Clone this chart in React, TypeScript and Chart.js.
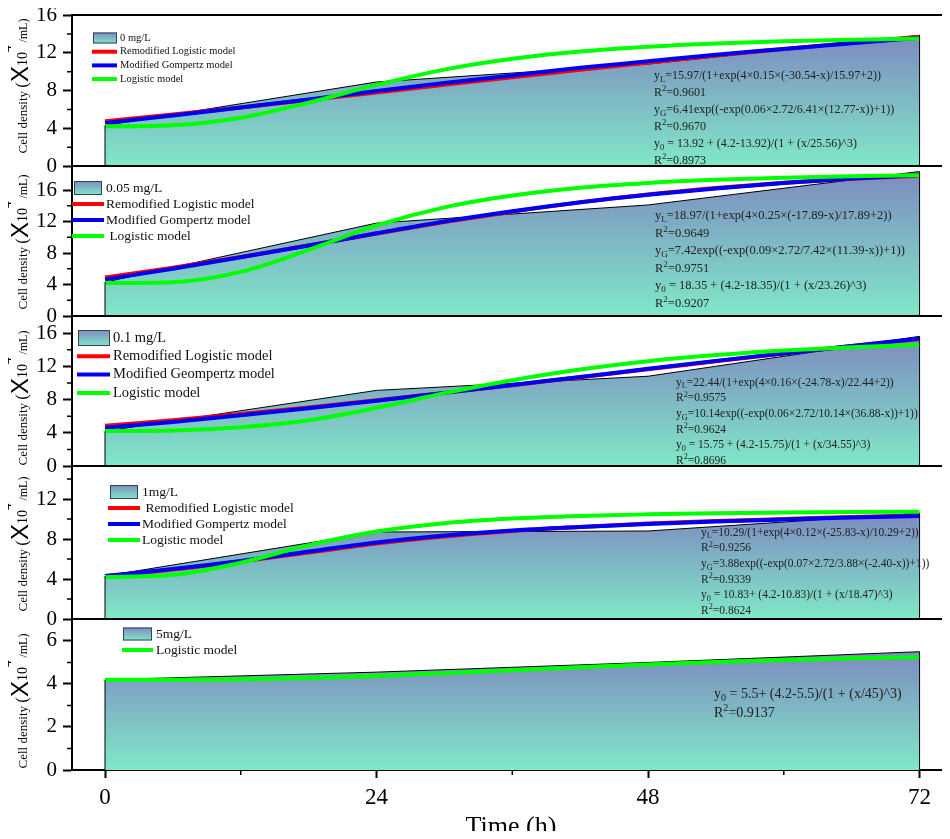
import React, { useEffect, useRef } from 'react';
import { Chart, registerables } from 'chart.js';
Chart.register(...registerables);

// ---------------- data ----------------
const hours = [0, 24, 48, 72];
const fitHours = [0, 6, 12, 18, 24, 30, 36, 42, 48, 54, 60, 66, 72];
const xTicks = [0, 24, 48, 72];
const xMinorTicks = [12, 36, 60];

const dens0 = [4.3, 8.9, 10.8, 13.85];
const dens005 = [4.3, 11.8, 14.1, 18.35];
const dens01 = [4.2, 9.1, 10.8, 15.6];
const dens1 = [4.3, 8.7, 8.8, 10.6];
const dens5 = [4.2, 4.55, 5.0, 5.5];

const red0 = [4.75, 5.45, 6.2, 7.0, 7.8, 8.6, 9.4, 10.2, 10.95, 11.7, 12.4, 13.05, 13.7];
const blue0 = [4.55, 5.35, 6.2, 7.05, 7.95, 8.8, 9.6, 10.4, 11.1, 11.8, 12.4, 13.0, 13.6];
const green0 = [4.2, 4.32, 5.11, 6.72, 8.6, 10.21, 11.36, 12.13, 12.64, 12.99, 13.22, 13.39, 13.5];

const red005 = [4.89, 6.12, 7.5, 8.97, 10.47, 11.92, 13.25, 14.43, 15.43, 16.25, 16.91, 17.42, 17.82];
const blue005 = [4.65, 6.0, 7.45, 8.95, 10.5, 12.0, 13.3, 14.45, 15.4, 16.2, 16.9, 17.45, 17.9];
const green005 = [4.2, 4.3, 5.6, 8.4, 11.5, 13.8, 15.3, 16.3, 16.9, 17.3, 17.57, 17.76, 17.89];

const red01 = [4.83, 5.51, 6.25, 7.05, 7.91, 8.8, 9.73, 10.69, 11.64, 12.6, 13.53, 14.43, 15.29];
const blue01 = [4.6, 5.3, 6.1, 6.95, 7.85, 8.8, 9.75, 10.7, 11.7, 12.65, 13.55, 14.45, 15.35];
const green01 = [4.2, 4.26, 4.66, 5.5, 7.0, 8.77, 10.33, 11.62, 12.61, 13.35, 13.9, 14.3, 14.6];

const red1 = [4.3, 4.95, 5.75, 6.65, 7.55, 8.25, 8.8, 9.2, 9.55, 9.8, 10.0, 10.2, 10.35];
const blue1 = [4.3, 5.0, 5.8, 6.75, 7.65, 8.35, 8.85, 9.2, 9.5, 9.75, 9.95, 10.15, 10.3];
const green1 = [4.2, 4.42, 5.63, 7.39, 8.75, 9.58, 10.04, 10.31, 10.47, 10.58, 10.64, 10.69, 10.72];

const green5 = [4.2, 4.2, 4.22, 4.28, 4.37, 4.5, 4.64, 4.78, 4.91, 5.02, 5.11, 5.19, 5.24];

const yTicks16 = [0, 4, 8, 12, 16];
const yTicks12 = [0, 4, 8, 12];
const yTicks6 = [0, 2, 4, 6];
const yMinor16 = [2, 6, 10, 14];
const yMinor12 = [2, 6, 10, 14];
const yMinor6 = [1, 3, 5];

const legendText0 = ['0 mg/L', 'Remodified Logistic model', 'Modified Gompertz model', 'Logistic model'];
const legendText005 = ['0.05 mg/L', 'Remodified Logistic model', 'Modified Gompertz model', ' Logistic model'];
const legendText01 = ['0.1 mg/L', 'Remodified Logistic model', 'Modified Geompertz model', 'Logistic model'];
const legendText1 = ['1mg/L', ' Remodified Logistic model', 'Modified Gompertz model', 'Logistic model'];
const legendText5 = ['5mg/L', 'Logistic model'];

const ann0 = [
  'y_{L}=15.97/(1+exp(4×0.15×(-30.54-x)/15.97+2))',
  'R^{2}=0.9601',
  'y_{G}=6.41exp((-exp(0.06×2.72/6.41×(12.77-x))+1))',
  'R^{2}=0.9670',
  'y_{0} = 13.92 + (4.2-13.92)/(1 + (x/25.56)^3)',
  'R^{2}=0.8973',
];
const ann005 = [
  'y_{L}=18.97/(1+exp(4×0.25×(-17.89-x)/17.89+2))',
  'R^{2}=0.9649',
  'y_{G}=7.42exp((-exp(0.09×2.72/7.42×(11.39-x))+1))',
  'R^{2}=0.9751',
  'y_{0} = 18.35 + (4.2-18.35)/(1 + (x/23.26)^3)',
  'R^{2}=0.9207',
];
const ann01 = [
  'y_{L}=22.44/(1+exp(4×0.16×(-24.78-x)/22.44+2))',
  'R^{2}=0.9575',
  'y_{G}=10.14exp((-exp(0.06×2.72/10.14×(36.88-x))+1))',
  'R^{2}=0.9624',
  'y_{0} = 15.75 + (4.2-15.75)/(1 + (x/34.55)^3)',
  'R^{2}=0.8696',
];
const ann1 = [
  'y_{L}=10.29/(1+exp(4×0.12×(-25.83-x)/10.29+2))',
  'R^{2}=0.9256',
  'y_{G}=3.88exp((-exp(0.07×2.72/3.88×(-2.40-x))+1))',
  'R^{2}=0.9339',
  'y_{0} = 10.83+ (4.2-10.83)/(1 + (x/18.47)^3)',
  'R^{2}=0.8624',
];
const ann5 = ['y_{0} = 5.5+ (4.2-5.5)/(1 + (x/45)^3)', 'R^{2}=0.9137'];

const xTitle = 'Time (h)';

// ---------------- styles / layout ----------------
const SERIF = '"Liberation Serif", "Times New Roman", Times, serif';
const SANS = '"Liberation Sans", Arial, sans-serif';
const RED = '#ff0000';
const BLUE = '#0000f5';
const GREEN = '#00ff00';
const GRAD_TOP = '#7d8bc0';
const GRAD_BOT = '#80e8c8';
const X_MIN = -2.917;
const X_MAX = 74.69;
const TOP_PAD = 15;

const panels = [
  {
    plotTop: 15, plotBottom: 166, ymax: 16, yTicks: yTicks16, yMinor: yMinor16,
    dens: dens0, red: red0, blue: blue0, green: green0,
    legendText: legendText0, legendColors: [null, RED, BLUE, GREEN],
    lg: { sx0: 92, sx1: 117, px0: 93, px1: 117, tx: 120, y0: 38, dy: 13.7, fs: 10.5, ph: 11 },
    ann: ann0, al: { x: 654, y0: 75, dy: 17, fs: 12 }, titleCy: 86,
  },
  {
    plotTop: 166, plotBottom: 316, ymax: 19.05, yTicks: yTicks16, yMinor: yMinor16,
    dens: dens005, red: red005, blue: blue005, green: green005,
    legendText: legendText005, legendColors: [null, RED, BLUE, GREEN],
    lg: { sx0: 72, sx1: 104, px0: 74, px1: 102, tx: 106, y0: 188, dy: 16, fs: 13.5, ph: 14 },
    ann: ann005, al: { x: 655, y0: 215, dy: 17.5, fs: 12.5 }, titleCy: 242,
  },
  {
    plotTop: 316, plotBottom: 466, ymax: 18.05, yTicks: yTicks16, yMinor: yMinor16,
    dens: dens01, red: red01, blue: blue01, green: green01,
    legendText: legendText01, legendColors: [null, RED, BLUE, GREEN],
    lg: { sx0: 77, sx1: 110, px0: 78, px1: 110, tx: 113, y0: 338, dy: 18.3, fs: 14.5, ph: 16 },
    ann: ann01, al: { x: 676, y0: 382, dy: 15.6, fs: 11.5 }, titleCy: 398,
  },
  {
    plotTop: 466, plotBottom: 619, ymax: 15.3, yTicks: yTicks12, yMinor: yMinor12,
    dens: dens1, red: red1, blue: blue1, green: green1,
    legendText: legendText1, legendColors: [null, RED, BLUE, GREEN],
    lg: { sx0: 108, sx1: 140, px0: 110, px1: 138, tx: 142, y0: 492, dy: 16, fs: 13.5, ph: 14 },
    ann: ann1, al: { x: 701, y0: 532, dy: 15.6, fs: 11.5 }, titleCy: 544,
  },
  {
    plotTop: 619, plotBottom: 770, ymax: 7.02, yTicks: yTicks6, yMinor: yMinor6,
    dens: dens5, red: null, blue: null, green: green5,
    legendText: legendText5, legendColors: [null, GREEN],
    lg: { sx0: 122, sx1: 153, px0: 123, px1: 152, tx: 156, y0: 634, dy: 16, fs: 13.5, ph: 13 },
    ann: ann5, al: { x: 714, y0: 693, dy: 19, fs: 14 }, titleCy: 701, last: true,
  },
];

// ---------------- helpers ----------------
function parseRich(s: string) {
  const segs: { t: string; m: number }[] = [];
  let buf = '';
  let i = 0;
  while (i < s.length) {
    if ((s[i] === '_' || s[i] === '^') && s[i + 1] === '{') {
      if (buf) { segs.push({ t: buf, m: 0 }); buf = ''; }
      const j = s.indexOf('}', i);
      segs.push({ t: s.slice(i + 2, j), m: s[i] === '_' ? 1 : 2 });
      i = j + 1;
    } else {
      buf += s[i];
      i++;
    }
  }
  if (buf) segs.push({ t: buf, m: 0 });
  return segs;
}

function drawRich(ctx: CanvasRenderingContext2D, s: string, x: number, yMid: number, size: number) {
  const base = yMid + size * 0.33;
  let cx = x;
  ctx.textBaseline = 'alphabetic';
  ctx.textAlign = 'left';
  for (const seg of parseRich(s)) {
    const fs = seg.m ? size * 0.72 : size;
    ctx.font = `${fs}px ${SERIF}`;
    const dy = seg.m === 1 ? size * 0.22 : seg.m === 2 ? -size * 0.4 : 0;
    ctx.fillText(seg.t, cx, base + dy);
    cx += ctx.measureText(seg.t).width;
  }
}

function drawYTitle(ctx: CanvasRenderingContext2D, baseX: number, cy: number) {
  const parts = [
    { t: 'Cell density ', f: `13px ${SERIF}`, dy: 0 },
    { t: '(', f: `17px ${SERIF}`, dy: 0 },
    { t: 'X', f: `24px ${SANS}`, dy: 1 },
    { t: '10', f: `14px ${SERIF}`, dy: 0 },
    { t: '4', f: `13px ${SERIF}`, dy: -16 },
    { t: ' /mL)', f: `12px ${SERIF}`, dy: 0 },
  ];
  ctx.save();
  ctx.translate(baseX, cy);
  ctx.rotate(-Math.PI / 2);
  ctx.fillStyle = '#000';
  ctx.textBaseline = 'alphabetic';
  ctx.textAlign = 'left';
  let total = 0;
  const widths = parts.map((p) => { ctx.font = p.f; const w = ctx.measureText(p.t).width; total += w; return w; });
  let x = -total / 2;
  parts.forEach((p, i) => {
    ctx.font = p.f;
    ctx.fillText(p.t, x, p.dy);
    x += widths[i];
  });
  ctx.restore();
}

function makeGradient(ctx: CanvasRenderingContext2D, top: number, bot: number) {
  const g = ctx.createLinearGradient(0, top, 0, bot);
  g.addColorStop(0, GRAD_TOP);
  g.addColorStop(1, GRAD_BOT);
  return g;
}

function buildConfig(p: any, canvasTop: number) {
  const pts = (xs: number[], ys: number[]) => xs.map((h, i) => ({ x: h, y: ys[i] }));
  const datasets: any[] = [];
  datasets.push({
    label: 'Logistic model', data: pts(fitHours, p.green), borderColor: GREEN, borderWidth: 4,
    pointRadius: 0, cubicInterpolationMode: 'monotone', fill: false, order: 0,
  });
  if (p.blue) datasets.push({
    label: 'Modified Gompertz model', data: pts(fitHours, p.blue), borderColor: BLUE, borderWidth: 4,
    pointRadius: 0, cubicInterpolationMode: 'monotone', fill: false, order: 1,
  });
  if (p.red) datasets.push({
    label: 'Remodified Logistic model', data: pts(fitHours, p.red), borderColor: RED, borderWidth: 4,
    pointRadius: 0, cubicInterpolationMode: 'monotone', fill: false, order: 2,
  });
  datasets.push({
    label: p.legendText[0], data: pts(hours, p.dens), borderColor: '#000', borderWidth: 1,
    pointRadius: 0, tension: 0, fill: 'origin', order: 3,
    backgroundColor: (c: any) => {
      const ch = c.chart;
      if (!ch.chartArea) return GRAD_BOT;
      const ys = ch.scales.y;
      return makeGradient(ch.ctx, ys.getPixelForValue(Math.max(...p.dens)), ys.getPixelForValue(0));
    },
  });

  const plugin = {
    id: 'panelDecor',
    afterDraw(chart: any) {
      const ctx: CanvasRenderingContext2D = chart.ctx;
      const a = chart.chartArea;
      const xs = chart.scales.x;
      const ys = chart.scales.y;
      ctx.save();
      // vertical edges of area
      ctx.strokeStyle = '#000';
      ctx.lineWidth = 1;
      [0, hours.length - 1].forEach((i) => {
        const px = xs.getPixelForValue(hours[i]);
        ctx.beginPath();
        ctx.moveTo(px, ys.getPixelForValue(p.dens[i]));
        ctx.lineTo(px, ys.getPixelForValue(0));
        ctx.stroke();
      });
      // frame
      ctx.lineWidth = 2;
      ctx.beginPath();
      ctx.moveTo(a.left - 1, a.top);
      ctx.lineTo(a.right, a.top);
      if (!p.last) {
        ctx.moveTo(a.left - 1, a.bottom);
        ctx.lineTo(a.right, a.bottom);
      }
      ctx.stroke();
      // minor ticks
      ctx.lineWidth = 1.5;
      ctx.beginPath();
      p.yMinor.forEach((v: number) => {
        if (v > p.ymax) return;
        const py = ys.getPixelForValue(v);
        ctx.moveTo(a.left - 5, py);
        ctx.lineTo(a.left, py);
      });
      if (p.last) {
        xMinorTicks.forEach((v) => {
          const px = xs.getPixelForValue(v);
          ctx.moveTo(px, a.bottom);
          ctx.lineTo(px, a.bottom + 5);
        });
      }
      ctx.stroke();
      // y title
      drawYTitle(ctx, 27, p.titleCy - canvasTop);
      // legend
      const lg = p.lg;
      p.legendText.forEach((t: string, i: number) => {
        const cy = lg.y0 + i * lg.dy - canvasTop;
        const col = p.legendColors[i];
        if (!col) {
          const top = cy - lg.ph / 2;
          ctx.fillStyle = makeGradient(ctx, top, top + lg.ph);
          ctx.fillRect(lg.px0, top, lg.px1 - lg.px0, lg.ph);
          ctx.strokeStyle = '#3a3f5a';
          ctx.lineWidth = 1;
          ctx.strokeRect(lg.px0 + 0.5, top + 0.5, lg.px1 - lg.px0 - 1, lg.ph - 1);
        } else {
          ctx.strokeStyle = col;
          ctx.lineWidth = 4;
          ctx.beginPath();
          ctx.moveTo(lg.sx0, cy);
          ctx.lineTo(lg.sx1, cy);
          ctx.stroke();
        }
        ctx.fillStyle = '#111';
        ctx.font = `${lg.fs}px ${SERIF}`;
        ctx.textAlign = 'left';
        ctx.textBaseline = 'middle';
        ctx.fillText(t, lg.tx, cy);
      });
      // annotations
      ctx.fillStyle = '#222';
      p.ann.forEach((s: string, i: number) => {
        drawRich(ctx, s, p.al.x, p.al.y0 + i * p.al.dy - canvasTop, p.al.fs);
      });
      ctx.restore();
    },
  };

  return {
    type: 'line',
    data: { datasets },
    options: {
      responsive: false,
      animation: false,
      devicePixelRatio: 1,
      events: [],
      layout: { padding: { top: TOP_PAD, bottom: p.last ? 0 : 15, left: 0, right: 0 } },
      plugins: { legend: { display: false }, tooltip: { enabled: false } },
      scales: {
        x: {
          type: 'linear',
          min: X_MIN,
          max: X_MAX,
          display: !!p.last,
          afterBuildTicks: (s: any) => { s.ticks = xTicks.map((v) => ({ value: v })); },
          afterFit: (s: any) => {
            s.height = p.last ? 69 : 0;
            s.paddingLeft = 0; s.paddingRight = 0;
          },
          grid: { drawOnChartArea: false, drawTicks: true, tickLength: 8, tickWidth: 2, tickColor: '#000' },
          border: { display: true, color: '#000', width: 2 },
          ticks: { font: { family: SERIF, size: 23 }, color: '#000', padding: 6, maxRotation: 0 },
          title: {
            display: true, text: xTitle, color: '#000',
            font: { family: SERIF, size: 26, lineHeight: 1 }, padding: { top: 0, bottom: -1 },
          },
        },
        y: {
          type: 'linear',
          min: 0,
          max: p.ymax,
          afterBuildTicks: (s: any) => { s.ticks = p.yTicks.map((v: number) => ({ value: v })); },
          afterFit: (s: any) => {
            s.width = 72;
            s.paddingTop = 0; s.paddingBottom = 0;
          },
          grid: { drawOnChartArea: false, drawTicks: true, tickLength: 9, tickWidth: 2, tickColor: '#000' },
          border: { display: true, color: '#000', width: 2 },
          ticks: { font: { family: SERIF, size: 21 }, color: '#000', padding: 6 },
        },
      },
    },
    plugins: [plugin],
  };
}

function Panel({ p }: { p: any }) {
  const ref = useRef<HTMLCanvasElement | null>(null);
  const canvasTop = p.plotTop - 15;
  const h = p.last ? 839 - canvasTop : p.plotBottom - p.plotTop + 30;
  useEffect(() => {
    if (!ref.current) return;
    const chart = new Chart(ref.current, buildConfig(p, canvasTop) as any);
    return () => chart.destroy();
  }, []);
  return (
    <canvas
      ref={ref}
      width={950}
      height={h}
      style={{ position: 'absolute', left: 0, top: canvasTop, width: 950, height: h }}
    />
  );
}

export default function App() {
  return (
    <div style={{ position: 'relative', width: 950, height: 839, margin: -8, background: '#fff', overflow: 'hidden' }}>
      {panels.map((p, i) => (
        <Panel key={i} p={p} />
      ))}
    </div>
  );
}
